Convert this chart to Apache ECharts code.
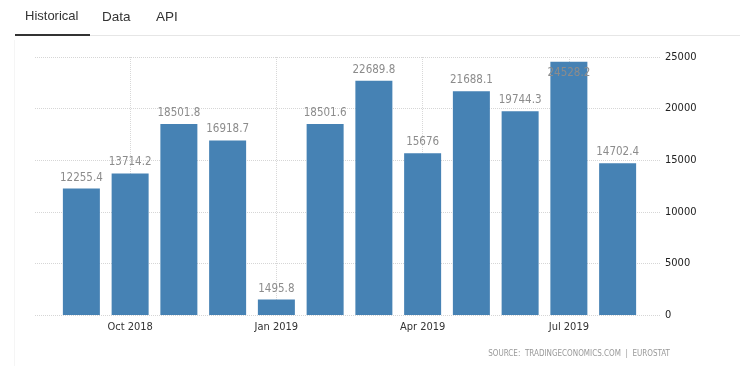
<!DOCTYPE html>
<html>
<head>
<meta charset="utf-8">
<script src="https://cdn.jsdelivr.net/npm/echarts@6/dist/echarts.min.js"></script>
<style>html,body{margin:0;padding:0;background:#fff;}#c{width:740px;height:366px;}</style>
</head>
<body>
<div id="c"></div>
<script>
const categories = ['Sep 2018','Oct 2018','Nov 2018','Dec 2018','Jan 2019','Feb 2019','Mar 2019','Apr 2019','May 2019','Jun 2019','Jul 2019','Aug 2019'];
const values = [12255.4, 13714.2, 18501.8, 16918.7, 1495.8, 18501.6, 22689.8, 15676, 21688.1, 19744.3, 24528.2, 14702.4];
const labelledCategories = ['Oct 2018','Jan 2019','Apr 2019','Jul 2019'];
const yMax = 25000, yStep = 5000;

const FONT = '"DejaVu Sans Condensed", "DejaVu Sans", sans-serif';
const chart = echarts.init(document.getElementById('c'), null, {renderer: 'canvas'});
const showIdx = (i) => labelledCategories.indexOf(categories[i]) >= 0;

chart.setOption({
  animation: false,
  grid: [
    {left: 35, right: 80, top: 57, bottom: 51},
    {left: 57, right: 98, top: 57, bottom: 51}
  ],
  xAxis: [
    {gridIndex: 0, type: 'value', min: 0, max: 1, show: false},
    {gridIndex: 1, type: 'category', data: categories,
      axisLine: {show: false}, axisTick: {show: false},
      axisLabel: {interval: (i) => showIdx(i), color: '#333', fontFamily: FONT, fontSize: 11, margin: 7},
      splitLine: {show: true, alignWithLabel: true, interval: (i) => showIdx(i), lineStyle: {color: '#d8d8d8', type: [1, 1], width: 1}}
    }
  ],
  yAxis: [
    {gridIndex: 0, type: 'value', position: 'right', min: 0, max: yMax, interval: yStep,
      axisLine: {show: false}, axisTick: {show: false},
      axisLabel: {color: '#222', fontFamily: FONT, fontSize: 11, margin: 5, formatter: (v) => String(v)},
      splitLine: {lineStyle: {color: '#d6d6d6', type: [1, 1], width: 1}}
    },
    {gridIndex: 1, type: 'value', min: 0, max: yMax, interval: yStep, show: false}
  ],
  series: [{
    type: 'bar', xAxisIndex: 1, yAxisIndex: 1,
    barWidth: 37,
    itemStyle: {color: '#4682b4'},
    label: {show: true, position: 'top', distance: 5, color: '#8c8c8c', fontFamily: FONT, fontSize: 11.5},
    data: values.map((v) => v === Math.max(...values)
      ? {value: v, label: {position: 'insideTop', distance: 5}}
      : v)
  }],
  graphic: [
    {type: 'text', left: 25, top: 10, style: {text: 'Historical', fill: '#333', font: '13px "Liberation Sans", Arial, sans-serif'}},
    {type: 'text', left: 102, top: 10, style: {text: 'Data', fill: '#333', font: '13.5px "Liberation Sans", Arial, sans-serif'}},
    {type: 'text', left: 156, top: 10, style: {text: 'API', fill: '#333', font: '13.5px "Liberation Sans", Arial, sans-serif'}},
    {type: 'rect', shape: {x: 90, y: 35, width: 650, height: 1}, style: {fill: '#e6e6e6'}},
    {type: 'rect', shape: {x: 15, y: 34, width: 75, height: 2}, style: {fill: '#333'}},
    {type: 'rect', shape: {x: 14, y: 40, width: 1, height: 326}, style: {fill: '#f5f5f5'}},
    {type: 'text', right: 70, top: 350, style: {text: 'SOURCE:  TRADINGECONOMICS.COM  |  EUROSTAT', fill: '#999', font: '8px "DejaVu Sans Condensed", "DejaVu Sans", sans-serif'}}
  ]
});
</script>
</body>
</html>
